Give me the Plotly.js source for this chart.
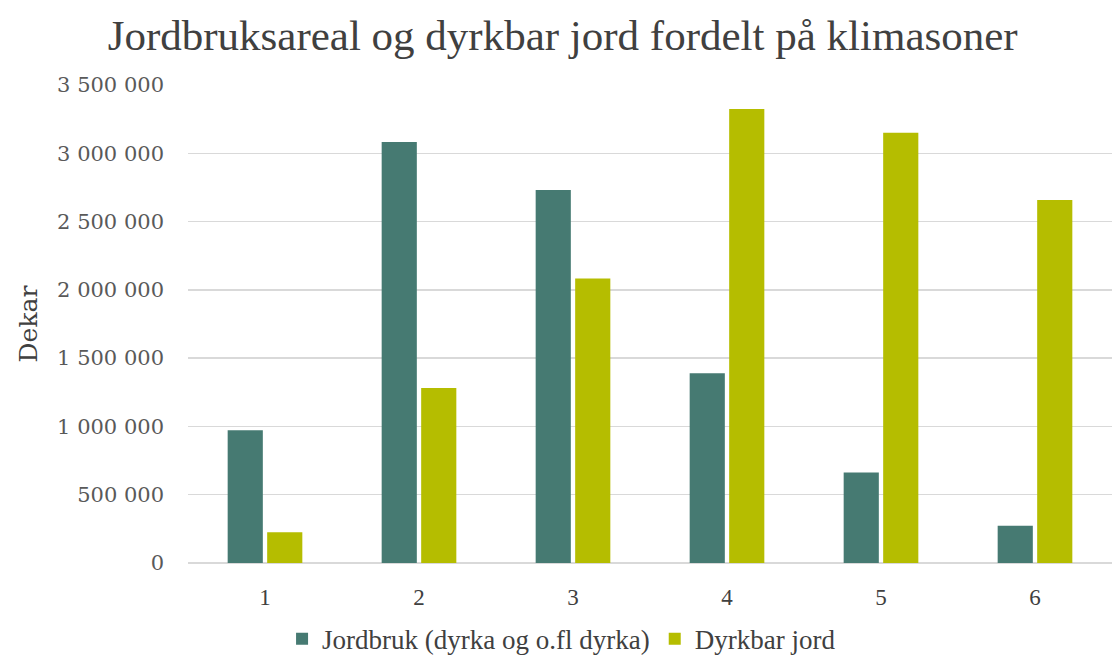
<!DOCTYPE html>
<html>
<head>
<meta charset="utf-8">
<script src="https://cdn.plot.ly/plotly-3.0.1.min.js"></script>
<style>
html,body{margin:0;padding:0;background:#fff;}
#chart{width:1112px;height:659px;}
</style>
</head>
<body>
<div id="chart"></div>
<script>
var categories = ["1", "2", "3", "4", "5", "6"];
var jordbruk = [972000, 3082000, 2731000, 1390000, 662000, 273000];
var dyrkbar = [226000, 1281000, 2084000, 3324000, 3150000, 2658000];
var seriesNames = ["Jordbruk (dyrka og o.fl dyrka)", "Dyrkbar jord"];
var yTicks = [0, 500000, 1000000, 1500000, 2000000, 2500000, 3000000, 3500000];

var serif = "'DejaVu Serif', Georgia, serif";
var lserif = "'Liberation Serif', serif";

var traces = [
  {type: "bar", name: seriesNames[0], x: categories, y: jordbruk,
   marker: {color: "#467a72"}, hoverinfo: "x+y"},
  {type: "bar", name: seriesNames[1], x: categories, y: dyrkbar,
   marker: {color: "#b5bd00"}, hoverinfo: "x+y"}
];

var layout = {
  width: 1112, height: 659,
  paper_bgcolor: "#ffffff", plot_bgcolor: "#ffffff",
  margin: {l: 188, r: 0, t: 85, b: 96, autoexpand: false},
  separators: ", ",
  title: {text: "Jordbruksareal og dyrkbar jord fordelt på klimasoner",
          x: 0.506, xanchor: "center", y: 0.947, yanchor: "middle",
          font: {family: lserif, size: 43, color: "#404040"}},
  barmode: "group",
  bargap: 0.487,
  bargroupgap: 0.11,
  xaxis: {type: "category", showgrid: false, zeroline: false, showline: false,
          ticks: "", tickfont: {family: lserif, size: 23, color: "#404040"},
          ticklabelstandoff: 18, automargin: false},
  yaxis: {range: [0, 3500000], tickvals: yTicks, tickformat: ",d",
          showgrid: true, gridcolor: "#d9d9d9", gridwidth: 1.5,
          zeroline: true, zerolinecolor: "#d9d9d9", zerolinewidth: 1.5,
          showline: false, ticks: "", automargin: false,
          tickfont: {family: serif, size: 21, color: "#595959"},
          ticklabelstandoff: 23,
          title: {text: "Dekar", standoff: 12,
                  font: {family: serif, size: 25, color: "#404040"}}},
  legend: {orientation: "h", xref: "container", yref: "container",
           x: 0.505, xanchor: "center", y: 0.03, yanchor: "middle",
           font: {family: lserif, size: 27, color: "#404040"},
           itemwidth: 30, traceorder: "normal"},
  showlegend: true
};

Plotly.newPlot("chart", traces, layout, {displayModeBar: false, staticPlot: true});
</script>
</body>
</html>
